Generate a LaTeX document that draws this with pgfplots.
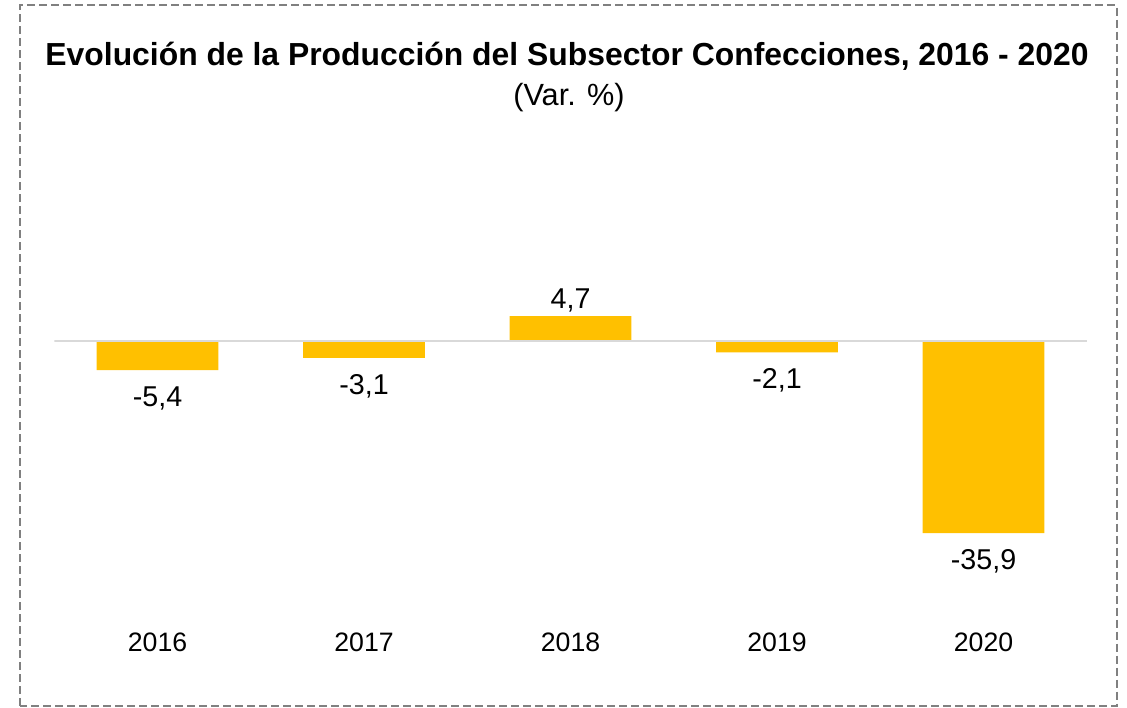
\documentclass[border=0pt]{standalone}
\usepackage{pgfplots}
\pgfplotsset{compat=1.18}
\usepackage{fontspec}
\setmainfont{Liberation Sans}
\definecolor{bargold}{HTML}{FFC000}
\definecolor{zerogray}{HTML}{D9D9D9}
\definecolor{bordergray}{HTML}{808080}
\begin{document}
\begin{tikzpicture}
\path (0pt,0pt) rectangle (845.25pt,530.25pt);
\draw[bordergray, line width=1.5pt, dash pattern=on 6pt off 3pt] (15pt,0.9pt) rectangle (837.5pt,526.5pt);
\node[anchor=base, font=\fontsize{23.9}{28}\selectfont\bfseries, inner sep=0pt] at (425.25pt,481pt) {Evolución de la Producción del Subsector Confecciones, 2016 - 2020};
\node[anchor=base, font=\fontsize{23}{27}\selectfont, inner sep=0pt] at (426.75pt,451pt) {(Var. \%)};
\begin{axis}[
  at={(40.7pt,63.75pt)}, anchor=south west,
  scale only axis, width=774.4pt, height=351pt,
  xmin=-0.5, xmax=4.5, ymin=-52.5, ymax=35,
  axis line style={draw=none}, tick style={draw=none},
  ytick=\empty,
  xtick={0,1,2,3,4},
  xticklabels={2016,2017,2018,2019,2020},
  xticklabel style={font=\fontsize{20}{24}\selectfont},
  ybar, bar width=91.3pt,
  visualization depends on={y \as \rawy},
  nodes near coords,
  nodes near coords style={font=\fontsize{21.5}{26}\selectfont, inner sep=8.5pt,
    yshift={\ifdim\rawy pt>0pt -6pt\else -3.5pt\fi},
    /pgf/number format/.cd, use comma, fixed, fixed zerofill, precision=1, assume math mode=true},
  clip=false,
]
\addplot[draw=none, fill=bargold] coordinates {(0,-5.4) (1,-3.1) (2,4.7) (3,-2.1) (4,-35.9)};
\end{axis}
\begin{axis}[
  at={(40.7pt,63.75pt)}, anchor=south west,
  scale only axis, width=774.4pt, height=351pt,
  xmin=-0.5, xmax=4.5, ymin=-52.5, ymax=35,
  hide axis,
]
\addplot[zerogray, line width=1.1pt] coordinates {(-0.5,0) (4.5,0)};
\end{axis}
\end{tikzpicture}
\end{document}
